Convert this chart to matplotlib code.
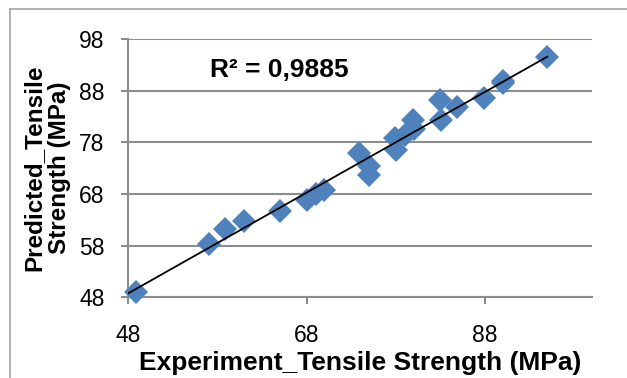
import numpy as np
import matplotlib
matplotlib.use('Agg')
import matplotlib.pyplot as plt
from matplotlib.lines import Line2D

# experimental vs predicted tensile strength (MPa)
experiment = [48.9, 57.0, 58.9, 61.0, 65.0, 68.0, 69.0, 70.0, 73.9, 75.0, 75.0,
              77.9, 78.0, 79.0, 79.9, 80.1, 83.0, 83.1, 84.9, 87.9, 90.0, 90.0, 95.0]
predicted = [49.1, 58.4, 61.2, 62.8, 64.8, 66.8, 67.9, 68.8, 75.9, 73.5, 71.6,
             78.8, 76.6, 79.4, 82.4, 80.5, 86.2, 82.4, 84.9, 86.5, 89.9, 89.4, 94.5]
r2_text = 'R² = 0,9885'
x_ticks = [48, 68, 88]
y_ticks = [48, 58, 68, 78, 88, 98]

plt.rcParams['font.family'] = ['Liberation Sans', 'DejaVu Sans']

fig = plt.figure(figsize=(6.27, 3.78), dpi=100)
ax = fig.add_axes([0.2046, 0.2135, 0.944 - 0.2046, 0.8968 - 0.2135])

grid_c = '#8c8c8c'
ax.set_xlim(48, 100)
ax.set_ylim(48, 98)
ax.set_xticks(x_ticks)
ax.set_yticks(y_ticks)
ax.yaxis.grid(True, color=grid_c, linewidth=1.5)
ax.set_axisbelow(True)
for side in ['top', 'right']:
    ax.spines[side].set_visible(False)
for side in ['left', 'bottom']:
    ax.spines[side].set_color(grid_c)
    ax.spines[side].set_linewidth(1.5)
ax.tick_params(direction='out', length=5, width=1.5, color=grid_c, labelsize=16.5)
ax.tick_params(axis='x', pad=14)
ax.tick_params(axis='y', pad=12)

ax.plot(experiment, predicted, 'D', color='#4f81bd', markersize=12,
        markeredgewidth=0, clip_on=False, zorder=3)

# linear trend line
slope, icpt = np.polyfit(experiment, predicted, 1)
xs = np.array([48, max(experiment)])
ax.plot(xs, slope * xs + icpt, color='black', linewidth=1.3, zorder=4)

ax.text(0.176, 0.88, r2_text, transform=ax.transAxes, fontsize=19,
        fontweight='bold', va='center', ha='left')

ax.set_xlabel('Experiment_Tensile Strength (MPa)', fontsize=19,
              fontweight='bold', labelpad=3)
ax.set_ylabel('Predicted_Tensile\nStrength (MPa)', fontsize=17.5,
              fontweight='bold', labelpad=6, linespacing=1.15)

# chart border (top and left edges)
fig.add_artist(Line2D([10 / 627, 10 / 627], [0, 1 - 9 / 378], color='#a6a6a6', linewidth=1.2))
fig.add_artist(Line2D([10 / 627, 1], [1 - 9 / 378, 1 - 9 / 378], color='#a6a6a6', linewidth=1.2))

fig.savefig('out.png', dpi=100)
